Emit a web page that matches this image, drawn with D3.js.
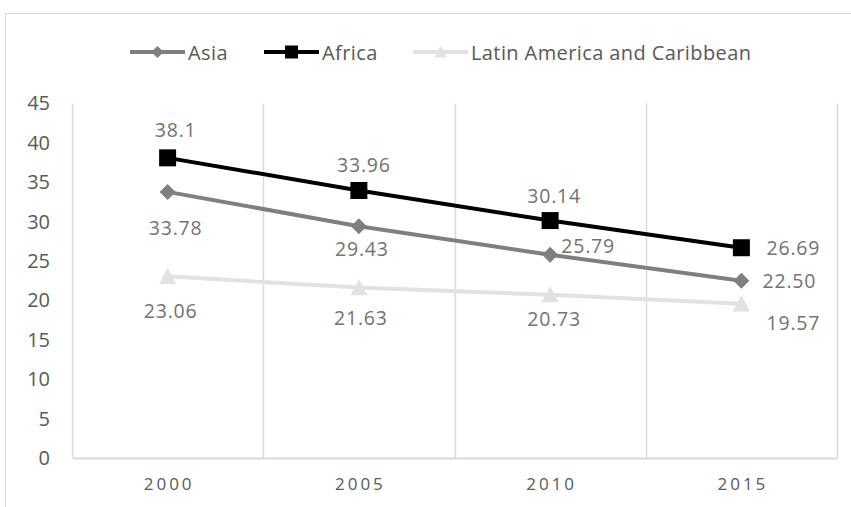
<!DOCTYPE html>
<html>
<head>
<meta charset="utf-8">
<script src="https://cdn.jsdelivr.net/npm/d3@7/dist/d3.min.js"></script>
<style>
  html, body { margin: 0; padding: 0; background: #fff; }
  svg { display: block; }
  text { font-family: "Open Sans", "Noto Sans", sans-serif; }
</style>
</head>
<body>
<svg id="chart" width="851" height="507"></svg>
<script>
// Category labels and values per region
const years = ["2000", "2005", "2010", "2015"];
const asia = [33.78, 29.43, 25.79, 22.50];
const africa = [38.1, 33.96, 30.14, 26.69];
const latinAmerica = [23.06, 21.63, 20.73, 19.57];
const labelText = {
  asia: ["33.78", "29.43", "25.79", "22.50"],
  africa: ["38.1", "33.96", "30.14", "26.69"],
  latin: ["23.06", "21.63", "20.73", "19.57"]
};
const yTicks = [0, 5, 10, 15, 20, 25, 30, 35, 40, 45];

// Data label placement relative to each marker (layout only)
const labelShift = {
  asia:   [[8, 36], [3, 22], [38, -9], [48, 0]],
  africa: [[8, -28], [5, -26], [4, -25], [52, 0]],
  latin:  [[3, 34], [2, 30], [4, 24], [52, 19]]
};

const series = [
  { key: "asia",   name: "Asia",   values: asia,         color: "#7f7f7f", marker: "diamond" },
  { key: "africa", name: "Africa", values: africa,       color: "#000000", marker: "square" },
  { key: "latin",  name: "Latin America and Caribbean", values: latinAmerica, color: "#e2e2e2", marker: "triangle" }
];

const svg = d3.select("#chart");
const plot = { left: 72, right: 837, top: 103.5, bottom: 458 };

const x = d3.scaleBand().domain(years).range([plot.left, plot.right]).padding(0);
const y = d3.scaleLinear().domain([0, 45]).range([plot.bottom, plot.top]);

// Outer chart frame
svg.append("rect")
  .attr("x", 5.5).attr("y", 13.5)
  .attr("width", 900).attr("height", 600)
  .attr("fill", "none").attr("stroke", "#d9d9d9").attr("stroke-width", 1);

// Vertical gridlines at category boundaries
const bounds = years.map(d => x(d)).concat([x(years[years.length - 1]) + x.bandwidth()]);
svg.append("g").selectAll("line").data(bounds).join("line")
  .attr("x1", d => Math.round(d) + 0.5).attr("x2", d => Math.round(d) + 0.5)
  .attr("y1", y(45)).attr("y2", y(0))
  .attr("stroke", "#d9d9d9").attr("stroke-width", 1.5);

// Category axis
const xAxis = svg.append("g")
  .attr("transform", `translate(0,${y(0)})`)
  .call(d3.axisBottom(x).tickSize(0).tickPadding(20));
xAxis.select(".domain").attr("stroke", "#d9d9d9").attr("stroke-width", 2);
xAxis.selectAll("text")
  .attr("fill", "#595959")
  .attr("font-size", 17)
  .attr("letter-spacing", "3px")
  .attr("dx", "1.5")
  .style("font-family", "'Open Sans', sans-serif");

// Value axis
const yAxis = svg.append("g")
  .attr("transform", `translate(50,0)`)
  .call(d3.axisLeft(y).tickValues(yTicks).tickSize(0).tickPadding(0));
yAxis.select(".domain").remove();
yAxis.selectAll("text")
  .attr("fill", "#595959")
  .attr("font-size", 20)
  .style("font-family", "'Open Sans', sans-serif");

// Marker shapes
function markerPath(type, s) {
  if (type === "square") {
    return `M${-s/2},${-s/2}H${s/2}V${s/2}H${-s/2}Z`;
  }
  if (type === "diamond") {
    return `M0,${-s/2}L${s/2},0L0,${s/2}L${-s/2},0Z`;
  }
  const h = s * 0.9;
  return `M0,${-h/2 - 1}L${s/2},${h/2}L${-s/2},${h/2}Z`;
}
const markerSize = { square: 17, diamond: 16, triangle: 17 };

const line = d3.line()
  .x((d, i) => x(years[i]) + x.bandwidth() / 2)
  .y(d => y(d));

// Draw lines bottom-to-top so Africa sits on top
const drawOrder = [series[2], series[0], series[1]];
drawOrder.forEach(s => {
  const g = svg.append("g");
  g.append("path")
    .datum(s.values)
    .attr("d", line)
    .attr("fill", "none")
    .attr("stroke", s.color)
    .attr("stroke-width", 4)
    .attr("stroke-linejoin", "round");
  g.selectAll("path.mk").data(s.values).join("path")
    .attr("class", "mk")
    .attr("transform", (d, i) => `translate(${x(years[i]) + x.bandwidth() / 2},${y(d)})`)
    .attr("d", markerPath(s.marker, markerSize[s.marker]))
    .attr("fill", s.color);
});

// Data labels
series.forEach(s => {
  svg.append("g").selectAll("text").data(s.values).join("text")
    .attr("x", (d, i) => x(years[i]) + x.bandwidth() / 2 + labelShift[s.key][i][0])
    .attr("y", (d, i) => y(d) + labelShift[s.key][i][1])
    .attr("text-anchor", "middle")
    .attr("dominant-baseline", "central")
    .attr("font-size", 19.5)
    .attr("letter-spacing", "0.8px")
    .attr("fill", "#737373")
    .text((d, i) => labelText[s.key][i]);
});

// Legend
const legendX = [130, 264, 413];
const legend = svg.append("g").attr("transform", "translate(0,52)");
series.forEach((s, i) => {
  const g = legend.append("g").attr("transform", `translate(${legendX[i]},0)`);
  g.append("line")
    .attr("x1", 0).attr("x2", 55).attr("y1", 0).attr("y2", 0)
    .attr("stroke", s.color).attr("stroke-width", 4);
  g.append("path")
    .attr("transform", "translate(27.5,0)")
    .attr("d", markerPath(s.marker, s.marker === "square" ? 13 : 12))
    .attr("fill", s.color);
  g.append("text")
    .attr("x", 58).attr("y", 0)
    .attr("dominant-baseline", "central")
    .attr("font-size", 20)
    .attr("letter-spacing", "0.4px")
    .attr("fill", "#595959")
    .text(s.name);
});
</script>
</body>
</html>
